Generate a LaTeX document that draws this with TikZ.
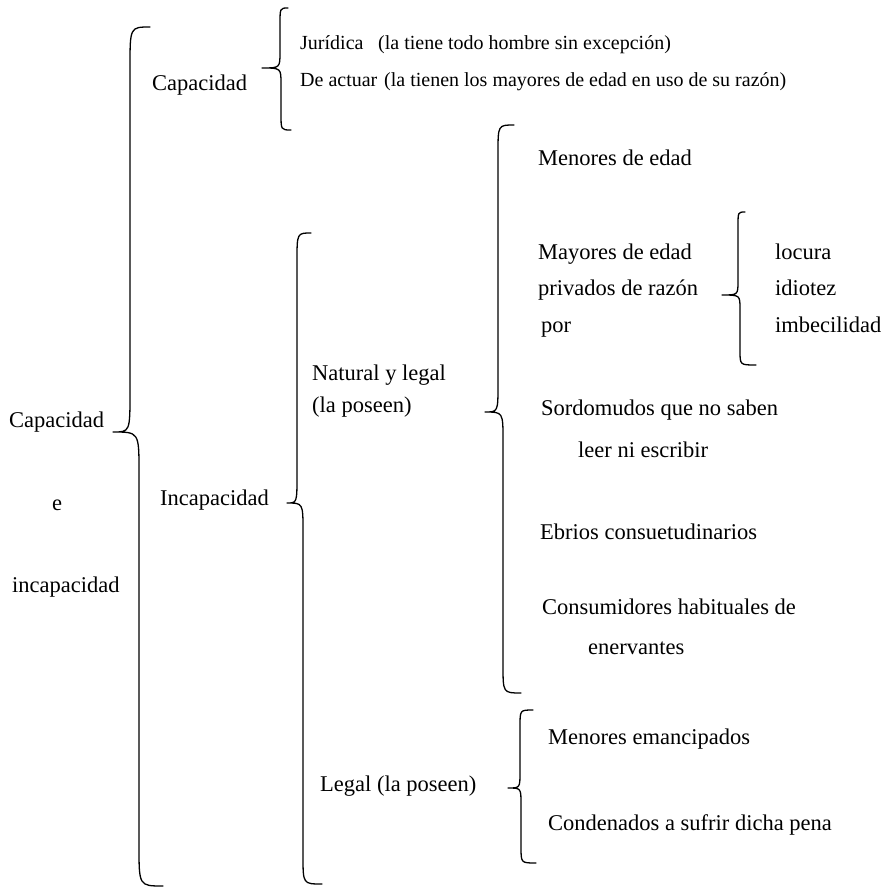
\documentclass[tikz,border=0pt]{standalone}
\usepackage{fontspec}
\setmainfont{Liberation Serif}
\newcommand\brc[9]{%
  \draw[bracestyle] (#1,#2) .. controls (#3,#2) .. (#3,#2+#9) -- (#3,#5-#9)
    .. controls (#3,#5) .. (#4,#5) .. controls (#6,#5) .. (#6,#5+#9)
    -- (#6,#8-#9) .. controls (#6,#8) .. (#7,#8);}
\begin{document}
\begin{tikzpicture}[x=1pt,y=-1pt,
  bracestyle/.style={line width=1.3pt,line cap=round,line join=round},
  lbl/.style={anchor=west,inner sep=0pt,font=\fontsize{22.5}{27}\selectfont,text height=0.7em,text depth=0.2em},
  toplbl/.style={lbl,font=\fontsize{20}{24}\selectfont},
  lblc/.style={lbl,anchor=center}]
\useasboundingbox[fill=white] (0,0) rectangle (886,890);
% braces
\brc{150}{27}{130}{113}{432}{139}{163}{886}{40}
\brc{288}{8}{280}{262}{68}{281}{291}{130}{16}
\brc{311}{233}{297}{287}{503}{303}{322}{884}{28}
\brc{514}{125}{498}{485}{412}{503}{521}{693}{28}
\brc{745}{212}{738}{722}{295}{740}{756}{365}{14}
\brc{533}{710}{520}{508}{788}{521}{536}{863}{16}
% labels
\node[lbl] (cap0) at (9,425) {Capacidad};
\node[lblc] (e0) at (57,508) {e};
\node[lbl] (inc0) at (12,590) {incapacidad};
\node[lbl] (cap1) at (152,88) {Capacidad};
\node[toplbl] (jur) at (300,47) {Jurídica};
\node[toplbl] (jurp) at (378,47) {(la tiene todo hombre sin excepción)};
\node[toplbl] (act) at (300,84) {De actuar};
\node[toplbl] (actp) at (384,84) {(la tienen los mayores de edad en uso de su razón)};
\node[lbl] (inc1) at (160,503) {Incapacidad};
\node[lbl] (nat) at (312,378) {Natural y legal};
\node[lbl] (natp) at (312,410) {(la poseen)};
\node[lbl] (leg) at (320,789) {Legal (la poseen)};
\node[lbl] (men) at (538,163) {Menores de edad};
\node[lbl] (may) at (538,257) {Mayores de edad};
\node[lbl] (priv) at (538,293) {privados de razón};
\node[lbl] (por) at (541,330) {por};
\node[lbl] (loc) at (775,257) {locura};
\node[lbl] (idi) at (775,293) {idiotez};
\node[lbl] (imb) at (775,330) {imbecilidad};
\node[lbl] (sord) at (541,413) {Sordomudos que no saben};
\node[lbl] (leer) at (578,455) {leer ni escribir};
\node[lbl] (ebr) at (540,537) {Ebrios consuetudinarios};
\node[lbl] (cons) at (542,612) {Consumidores habituales de};
\node[lbl] (ener) at (588,652) {enervantes};
\node[lbl] (memc) at (548,742) {Menores emancipados};
\node[lbl] (cond) at (548,828) {Condenados a sufrir dicha pena};
\end{tikzpicture}
\end{document}
